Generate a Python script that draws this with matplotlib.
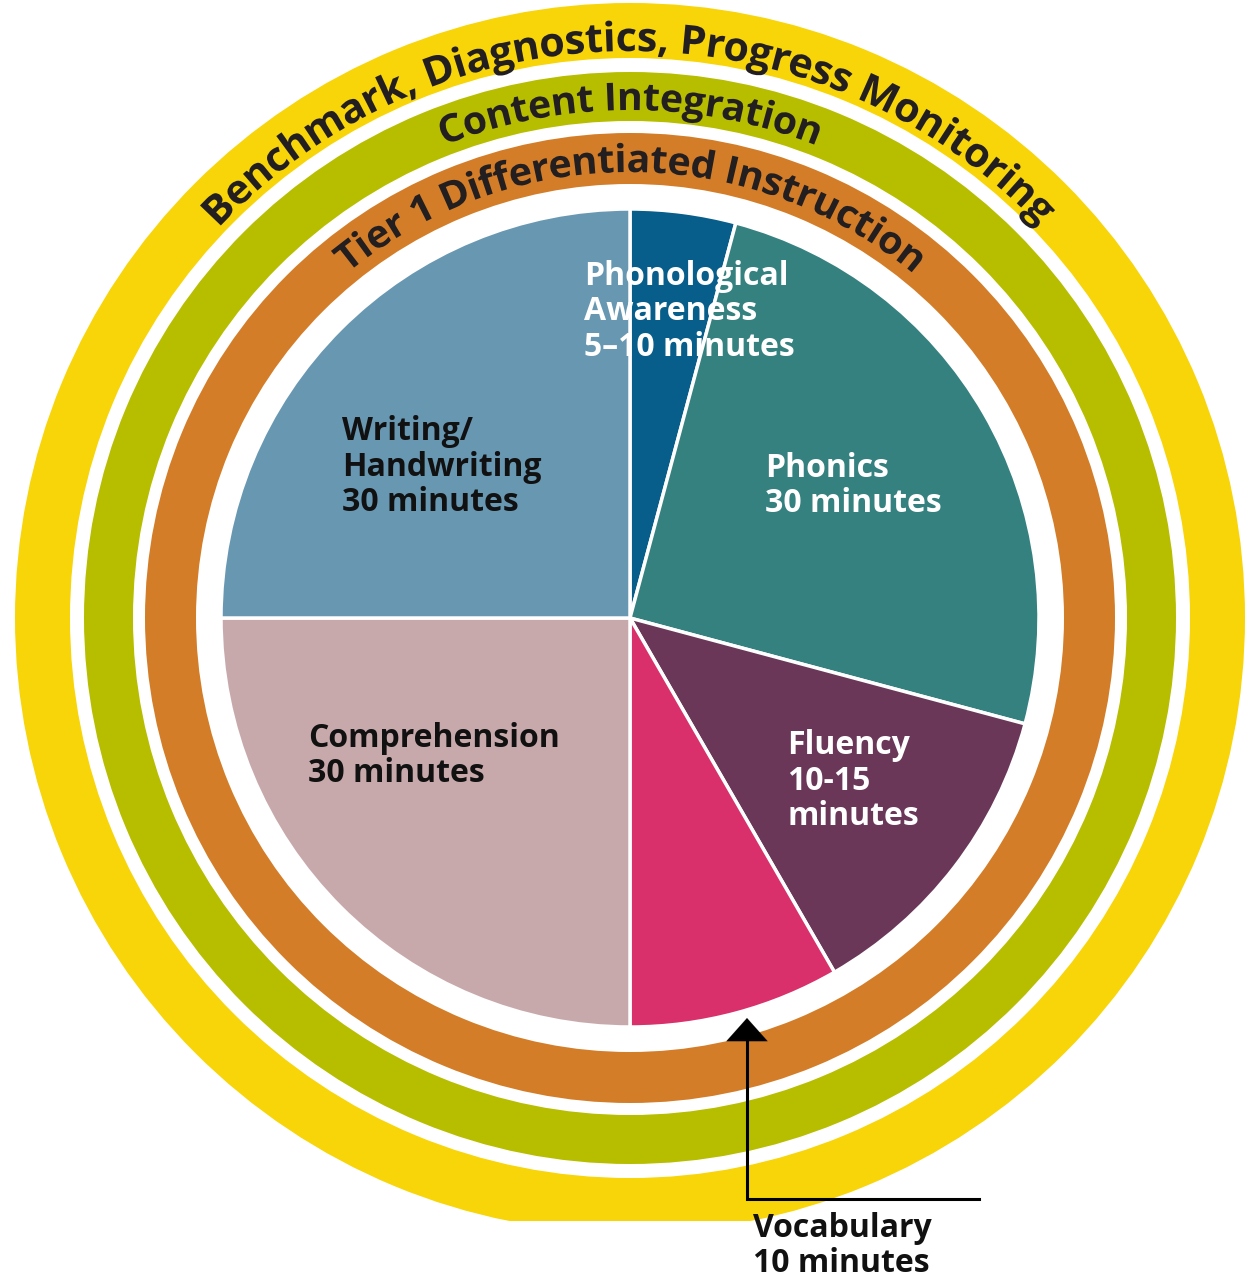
import numpy as np
import matplotlib
matplotlib.use('Agg')
import matplotlib.pyplot as plt
from matplotlib.patches import Wedge, PathPatch, Rectangle
from matplotlib.textpath import TextPath
from matplotlib.path import Path
from matplotlib.font_manager import FontProperties

# pie data (slice share in 1/120 of the circle, as drawn)
segments = ['Phonological\nAwareness\n5–10 minutes', 'Phonics\n30 minutes',
            'Fluency\n10-15\nminutes', 'Vocabulary\n10 minutes',
            'Comprehension\n30 minutes', 'Writing/\nHandwriting\n30 minutes']
share = [5, 30, 15, 10, 30, 30]
colors = ['#075e8a', '#35817f', '#6a3759', '#d9306b', '#c8a9ab', '#6897b2']
label_colors = ['white', 'white', 'white', '#111111', '#111111', '#111111']
label_pos = [(584, 285), (765, 477), (787, 754), (753, 1237), (308, 747), (342, 440)]

# outer rings, inside to outside
ring_names = ['Tier 1 Differentiated Instruction', 'Content Integration',
              'Benchmark, Diagnostics, Progress Monitoring']
ring_colors = ['#d47d28', '#b7be00', '#f8d508']
ring_radii = [(434, 485), (497, 546), (560, 615)]
ring_baseline = [446, 508, 567]
ring_fs = [38.5, 38.5, 40.5]

W, H = 1252, 1281
cx, cy = 630, H - 618

fig = plt.figure(figsize=(W / 100, H / 100), dpi=100)
ax = fig.add_axes([0, 0, 1, 1])

ax.pie(share, colors=colors, startangle=90, counterclock=False,
       center=(cx, cy), radius=409,
       wedgeprops=dict(edgecolor='white', linewidth=2.5))

clip = Rectangle((0, H - 1221), W, 1221, transform=ax.transData)
for (r0, r1), c in zip(ring_radii, ring_colors):
    w = Wedge((cx, cy), r1, 0, 360, width=r1 - r0, facecolor=c, edgecolor='none')
    ax.add_patch(w)
    w.set_clip_path(clip)

prop = FontProperties(family='Open Sans', weight='bold')


def arc_text(s, rb, size=38.5, color='#231f20'):
    tp = TextPath((0, 0), s, size=size, prop=prop)
    v = tp.vertices.copy()
    ext = tp.get_extents()
    xc = (ext.x0 + ext.x1) / 2
    th = np.pi / 2 - (v[:, 0] - xc) / rb
    rr = rb + v[:, 1]
    xy = np.column_stack([cx + rr * np.cos(th), cy + rr * np.sin(th)])
    ax.add_patch(PathPatch(Path(xy, tp.codes), facecolor=color, edgecolor='none'))


for name, rb, fs in zip(ring_names, ring_baseline, ring_fs):
    arc_text(name, rb, size=fs)

# one text per line, 35 px apart
for txt, (x, y), c in zip(segments, label_pos, label_colors):
    for i, line in enumerate(txt.split('\n')):
        ax.text(x, H - y - 35.5 * i, line, color=c, fontsize=23, fontweight='bold',
                family='Open Sans', ha='left', va='baseline')

# pointer for vocabulary
ax.plot([747, 747, 979], [H - 1038, H - 1199, H - 1199], color='black', lw=2.2,
        solid_joinstyle='miter')
ax.annotate('', xy=(747, H - 1018), xytext=(747, H - 1041),
            arrowprops=dict(arrowstyle='-|>,head_length=0.83,head_width=0.74',
                            mutation_scale=20, color='black', lw=0.1,
                            shrinkA=0, shrinkB=0))

ax.set_xlim(0, W)
ax.set_ylim(0, H)
ax.set_aspect('auto')
ax.axis('off')
fig.savefig('out.png', dpi=100)
